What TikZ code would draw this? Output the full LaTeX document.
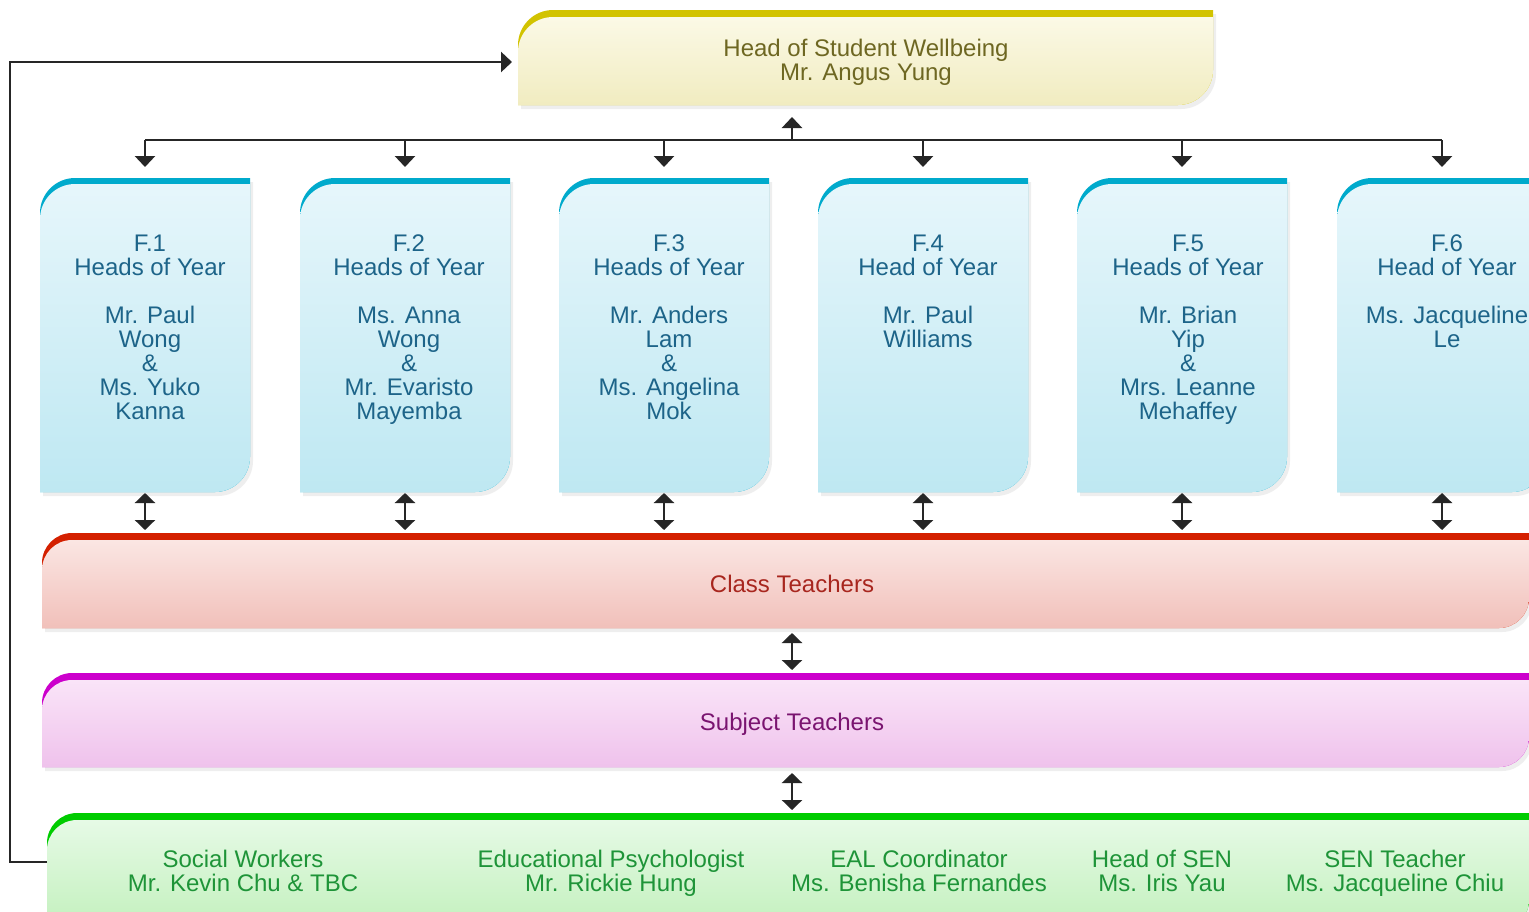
\documentclass[tikz,border=0pt]{standalone}
\usepackage{fontspec}
\setmainfont{Liberation Sans}
\usetikzlibrary{arrows.meta,shadows}
\definecolor{ylBand}{HTML}{D2C300}
\definecolor{ylTop}{HTML}{FBF9E6}
\definecolor{ylBot}{HTML}{F1ECC0}
\definecolor{ylText}{HTML}{6E6722}
\definecolor{blBand}{HTML}{00AACC}
\definecolor{blTop}{HTML}{E6F6FB}
\definecolor{blBot}{HTML}{BEE8F2}
\definecolor{blText}{HTML}{1D6489}
\definecolor{rdBand}{HTML}{D42000}
\definecolor{rdTop}{HTML}{FBE6E3}
\definecolor{rdBot}{HTML}{F1C0BA}
\definecolor{rdText}{HTML}{A8261E}
\definecolor{pkBand}{HTML}{CC00CC}
\definecolor{pkTop}{HTML}{FAE4F8}
\definecolor{pkBot}{HTML}{EFC2EC}
\definecolor{pkText}{HTML}{7A1470}
\definecolor{gnBand}{HTML}{00CC00}
\definecolor{gnTop}{HTML}{E6FAE6}
\definecolor{gnBot}{HTML}{C2F0BC}
\definecolor{gnText}{HTML}{1E9438}
\tikzset{
  bx/.style n args={5}{insert path={(#1,#4) -- (#1,#2+#5) .. controls (#1,#2+0.45*#5) and (#1+0.45*#5,#2) .. (#1+#5,#2) -- (#3,#2) -- (#3,#4-#5) .. controls (#3,#4-0.45*#5) and (#3-0.45*#5,#4) .. (#3-#5,#4) -- cycle}},
  softshadow/.style={drop shadow={opacity=0.13, shadow xshift=1.5pt, shadow yshift=-2pt}},
  boxnode/.style={inner sep=0pt, outer sep=0pt},
  lbl/.style={align=center, font=\fontsize{12}{12}\selectfont, inner sep=0pt},
  conn/.style={draw=black!85, line width=1.3pt},
  arr/.style={conn, -{Triangle[width=10pt,length=5.5pt]}},
  dbl/.style={conn, {Triangle[width=10pt,length=5pt]}-{Triangle[width=10pt,length=5pt]}},
}
\begin{document}
\begin{tikzpicture}[x=0.5pt,y=-0.5pt]
\useasboundingbox (0,0) rectangle (1529,911);
\begin{scope}
\clip (0,0) rectangle (1529,911);
\fill[white] (0,0) rectangle (1529,911);

% top box
\fill[ylBand, softshadow] [bx={518}{10}{1213}{105}{35}];
\shade[top color=ylTop, bottom color=ylBot] [bx={518}{10+7}{1213}{105}{35}];
\node[boxnode, minimum width=347.5pt, minimum height=47.5pt] (hsw) at (865.5,57.5) {};
\node[lbl, text=ylText] (hswT) at (866,62) {Head of Student Wellbeing\\Mr. Angus Yung};

% year boxes
\foreach \i/\xa in {1/40, 2/300, 3/559, 4/818, 5/1077, 6/1337} {
  \fill[blBand, softshadow] [bx={\xa}{178}{\xa+210}{492}{35}];
  \shade[top color=blTop, middle color=blBot!70!blTop, bottom color=blBot] [bx={\xa}{178+6}{\xa+210}{492}{35}];
  \node[boxnode, minimum width=105pt, minimum height=157pt] (f\i) at (\xa+105,335) {};
}
\node[lbl, text=blText] (f1T) at (150,327) {F.1\\Heads of Year\\[12pt]Mr. Paul\\Wong\\\&\\Ms. Yuko\\Kanna};
\node[lbl, text=blText] (f2T) at (409,330) {F.2\\Heads of Year\\[12pt]Ms. Anna\\Wong\\\&\\Mr. Evaristo\\Mayemba};
\node[lbl, text=blText] (f3T) at (669,327) {F.3\\Heads of Year\\[12pt]Mr. Anders\\Lam\\\&\\Ms. Angelina\\Mok};
\node[lbl, text=blText] (f4T) at (928,291) {F.4\\Head of Year\\[12pt]Mr. Paul\\Williams};
\node[lbl, text=blText] (f5T) at (1188,330) {F.5\\Heads of Year\\[12pt]Mr. Brian\\Yip\\\&\\Mrs. Leanne\\Mehaffey};
\node[lbl, text=blText] (f6T) at (1447,291) {F.6\\Head of Year\\[12pt]Ms. Jacqueline\\Le};

% class teachers
\fill[rdBand, softshadow] [bx={42}{533}{1529}{628}{30}];
\shade[top color=rdTop, bottom color=rdBot] [bx={42}{533+7}{1529}{628}{30}];
\node[boxnode, minimum width=743.5pt, minimum height=47.5pt] (ct) at (785.5,580.5) {};
\node[lbl, text=rdText] (ctT) at (792,584) {Class Teachers};

% subject teachers
\fill[pkBand, softshadow] [bx={42}{673}{1529}{767}{30}];
\shade[top color=pkTop, bottom color=pkBot] [bx={42}{673+7}{1529}{767}{30}];
\node[boxnode, minimum width=743.5pt, minimum height=47pt] (st) at (785.5,720) {};
\node[lbl, text=pkText] (stT) at (792,724) {Subject Teachers};

% support staff
\fill[gnBand, softshadow] [bx={47}{813}{1529}{930}{30}];
\shade[top color=gnTop, bottom color=gnBot] [bx={47}{813+7}{1529}{930}{30}];
\node[boxnode, minimum width=741pt, minimum height=49pt] (ss) at (788,862) {};
\node[lbl, text=gnText] (sw) at (243,871) {Social Workers\\Mr. Kevin Chu \& TBC};
\node[lbl, text=gnText] (ep) at (611,873) {Educational Psychologist\\Mr. Rickie Hung};
\node[lbl, text=gnText] (eal) at (919,871) {EAL Coordinator\\Ms. Benisha Fernandes};
\node[lbl, text=gnText] (hsen) at (1162,871) {Head of SEN\\Ms. Iris Yau};
\node[lbl, text=gnText] (sent) at (1395,873) {SEN Teacher\\Ms. Jacqueline Chiu};

% connectors
\coordinate (bus) at (792,140);
\draw[conn] (f1.north |- bus) -- (f6.north |- bus);
\draw[arr, shorten >=6pt] (bus) -- (hsw.south -| bus);
\foreach \i in {1,...,6} {
  \draw[arr, shorten >=5.5pt] (f\i.north |- bus) -- (f\i.north);
  \draw[dbl, shorten <=0.5pt, shorten >=1.5pt] (f\i.south) -- (f\i.south |- ct.north);
}
\draw[dbl, shorten <=2.5pt, shorten >=1.5pt] (ct.south -| bus) -- (st.north -| bus);
\draw[dbl, shorten <=3pt, shorten >=1.5pt] (st.south -| bus) -- (ss.north -| bus);
\coordinate (fbTop) at (10,62);
\draw[arr, shorten >=3pt] (ss.west) -| (fbTop) -- (fbTop -| hsw.west);
\end{scope}
\end{tikzpicture}
\end{document}
